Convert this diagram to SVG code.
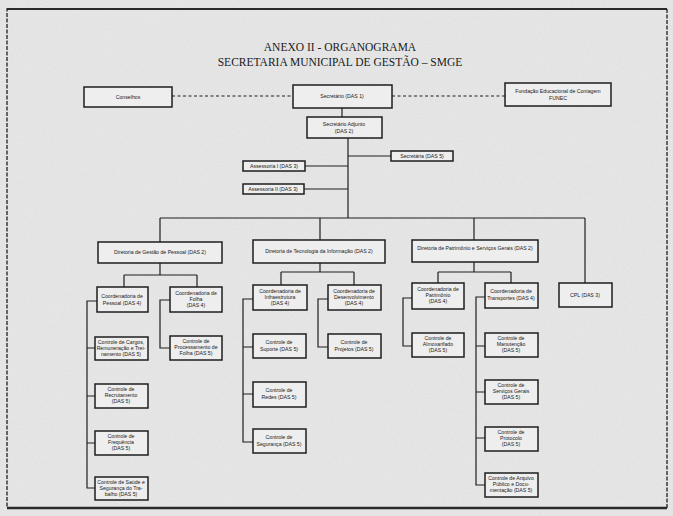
<svg xmlns="http://www.w3.org/2000/svg" width="673" height="516" viewBox="0 0 673 516">
<defs>
<filter id="paper" x="0" y="0" width="100%" height="100%">
<feTurbulence type="fractalNoise" baseFrequency="0.9" numOctaves="2" seed="3" result="n"/>
<feColorMatrix type="matrix" values="0 0 0 0 0.5  0 0 0 0 0.5  0 0 0 0 0.5  0 0 0 -0.9 0.55"/>
</filter>
</defs>
<style>
.bx{fill:#eeeeee;stroke:#1e1e1e;stroke-width:1.5}
.t{font-family:"Liberation Sans",Arial,sans-serif;font-size:5.2px;fill:#1a1a1a;text-anchor:middle}
.title{font-family:"Liberation Serif","Times New Roman",serif;font-size:11.5px;fill:#1a1a1a;text-anchor:middle}
.ln{stroke:#1e1e1e;stroke-width:1.2;fill:none}
.dash{stroke:#1e1e1e;stroke-width:1.2;fill:none;stroke-dasharray:3 2.5}
</style>
<rect x="0" y="0" width="673" height="516" fill="#e6e6e6"/>
<rect x="0" y="0" width="673" height="516" filter="url(#paper)" opacity="0.35"/>
<rect x="7" y="9" width="660" height="499" fill="none" stroke="#3a3a3a" stroke-width="1.5" stroke-dasharray="4 1.5"/>
<line x1="7" y1="9" x2="667" y2="9" stroke="#2a2a2a" stroke-width="2"/>
<line x1="7" y1="508" x2="667" y2="508" stroke="#2a2a2a" stroke-width="2.5"/>

<g id="title">
<text class="title" x="340" y="51">ANEXO II - ORGANOGRAMA</text>
<text class="title" x="340" y="66">SECRETARIA MUNICIPAL DE GESTÃO – SMGE</text>
</g>

<g id="connectors">
<path class="dash" d="M172 96H293M392 96H505"/>
<path class="ln" d="M342 108V117"/>
<path class="ln" d="M348 138V218M348 156H391M305 166H348M304 189H348"/>
<path class="ln" d="M160 218H585M160 218V242M320 218V240M474 218V240M585 218V283"/>
<path class="ln" d="M160 263V275M124 275H197M124 275V287M197 275V287"/>
<path class="ln" d="M97 301H87V488H95M87 348H95M87 396H95M87 443H95"/>
<path class="ln" d="M170 300H160V348H170"/>
<path class="ln" d="M320 263V272M281 272H354M281 272V285M354 272V285"/>
<path class="ln" d="M253 299H243V442H253M243 347H253M243 394H253"/>
<path class="ln" d="M328 299H318V347H328"/>
<path class="ln" d="M474 262V272M438 272H511M438 272V283M511 272V283"/>
<path class="ln" d="M412 298H403V346H412"/>
<path class="ln" d="M485 297H476V485H485M476 346H485M476 392H485M476 438H485"/>
</g>

<g id="n-conselhos"><rect class="bx" x="84" y="87" width="88" height="20"/><text class="t" x="128" y="99">Conselhos</text></g>
<g id="n-secretario"><rect class="bx" x="293" y="85" width="99" height="23"/><text class="t" x="342" y="98">Secretário (DAS 1)</text></g>
<g id="n-funec"><rect class="bx" x="505" y="83" width="106" height="23"/><text class="t" x="558" y="93">Fundação Educacional de Contagem</text><text class="t" x="558" y="100">FUNEC</text></g>
<g id="n-adjunto"><rect class="bx" x="307" y="117" width="75" height="21"/><text class="t" x="344" y="126">Secretário Adjunto</text><text class="t" x="344" y="133">(DAS 2)</text></g>
<g id="n-secretaria"><rect class="bx" x="391" y="151" width="62" height="10"/><text class="t" x="422" y="158">Secretária (DAS 5)</text></g>
<g id="n-assessoria1"><rect class="bx" x="243" y="161" width="62" height="10"/><text class="t" x="274" y="168">Assessoria I (DAS 3)</text></g>
<g id="n-assessoria2"><rect class="bx" x="243" y="184" width="61" height="10"/><text class="t" x="273" y="191">Assessoria II (DAS 3)</text></g>

<g id="n-dgp"><rect class="bx" x="98" y="242" width="124" height="21"/><text class="t" x="160" y="254">Diretoria de Gestão de Pessoal (DAS 2)</text></g>
<g id="n-dti"><rect class="bx" x="253" y="240" width="132" height="23"/><text class="t" x="319" y="253">Diretoria de Tecnologia da Informação (DAS 2)</text></g>
<g id="n-dps"><rect class="bx" x="412" y="240" width="126" height="22"/><text class="t" x="475" y="250">Diretoria de Patrimônio e Serviços Gerais (DAS 2)</text></g>
<g id="n-cpl"><rect class="bx" x="559" y="283" width="53" height="24"/><text class="t" x="585" y="297">CPL (DAS 3)</text></g>

<g id="n-cpes"><rect class="bx" x="97" y="287" width="51" height="25"/><text class="t" x="122" y="298">Coordenadoria de</text><text class="t" x="122" y="305">Pessoal (DAS 4)</text></g>
<g id="n-cfol"><rect class="bx" x="170" y="287" width="52" height="25"/><text class="t" x="196" y="295">Coordenadoria de</text><text class="t" x="196" y="301">Folha</text><text class="t" x="196" y="307">(DAS 4)</text></g>
<g id="n-c11"><rect class="bx" x="95" y="337" width="53" height="23"/><text class="t" x="121" y="344">Controle de Cargos,</text><text class="t" x="121" y="350">Remuneração e Trei-</text><text class="t" x="121" y="356">namento (DAS 5)</text></g>
<g id="n-c12"><rect class="bx" x="95" y="384" width="53" height="24"/><text class="t" x="121" y="391">Controle de</text><text class="t" x="121" y="397">Recrutamento</text><text class="t" x="121" y="403">(DAS 5)</text></g>
<g id="n-c13"><rect class="bx" x="95" y="431" width="53" height="24"/><text class="t" x="121" y="438">Controle de</text><text class="t" x="121" y="444">Frequência</text><text class="t" x="121" y="450">(DAS 5)</text></g>
<g id="n-c14"><rect class="bx" x="95" y="477" width="53" height="23"/><text class="t" x="121" y="484">Controle de Saúde e</text><text class="t" x="121" y="490">Segurança do Tra-</text><text class="t" x="121" y="496">balho (DAS 5)</text></g>
<g id="n-c15"><rect class="bx" x="170" y="336" width="52" height="24"/><text class="t" x="196" y="343">Controle de</text><text class="t" x="196" y="349">Processamento de</text><text class="t" x="196" y="355">Folha (DAS 5)</text></g>

<g id="n-cinf"><rect class="bx" x="253" y="285" width="54" height="25"/><text class="t" x="280" y="293">Coordenadoria de</text><text class="t" x="280" y="299">Infraestrutura</text><text class="t" x="280" y="305">(DAS 4)</text></g>
<g id="n-cdes"><rect class="bx" x="328" y="285" width="53" height="25"/><text class="t" x="354" y="293">Coordenadoria de</text><text class="t" x="354" y="299">Desenvolvimento</text><text class="t" x="354" y="305">(DAS 4)</text></g>
<g id="n-c21"><rect class="bx" x="253" y="334" width="53" height="24"/><text class="t" x="279" y="344">Controle de</text><text class="t" x="279" y="351">Suporte (DAS 5)</text></g>
<g id="n-c22"><rect class="bx" x="253" y="382" width="53" height="25"/><text class="t" x="279" y="392">Controle de</text><text class="t" x="279" y="399">Redes (DAS 5)</text></g>
<g id="n-c23"><rect class="bx" x="253" y="429" width="53" height="24"/><text class="t" x="279" y="439">Controle de</text><text class="t" x="279" y="446">Segurança (DAS 5)</text></g>
<g id="n-c24"><rect class="bx" x="328" y="334" width="53" height="24"/><text class="t" x="354" y="344">Controle de</text><text class="t" x="354" y="351">Projetos (DAS 5)</text></g>

<g id="n-cpat"><rect class="bx" x="412" y="283" width="52" height="26"/><text class="t" x="438" y="291">Coordenadoria de</text><text class="t" x="438" y="297">Patrimônio</text><text class="t" x="438" y="303">(DAS 4)</text></g>
<g id="n-ctra"><rect class="bx" x="485" y="283" width="53" height="25"/><text class="t" x="511" y="293">Coordenadoria de</text><text class="t" x="511" y="300">Transportes (DAS 4)</text></g>
<g id="n-c31"><rect class="bx" x="412" y="333" width="52" height="24"/><text class="t" x="438" y="340">Controle de</text><text class="t" x="438" y="346">Almoxarifado</text><text class="t" x="438" y="352">(DAS 5)</text></g>
<g id="n-c32"><rect class="bx" x="485" y="333" width="53" height="24"/><text class="t" x="511" y="340">Controle de</text><text class="t" x="511" y="346">Manutenção</text><text class="t" x="511" y="352">(DAS 5)</text></g>
<g id="n-c33"><rect class="bx" x="485" y="380" width="53" height="24"/><text class="t" x="511" y="387">Controle de</text><text class="t" x="511" y="393">Serviços Gerais</text><text class="t" x="511" y="399">(DAS 5)</text></g>
<g id="n-c34"><rect class="bx" x="485" y="427" width="53" height="24"/><text class="t" x="511" y="434">Controle de</text><text class="t" x="511" y="440">Protocolo</text><text class="t" x="511" y="446">(DAS 5)</text></g>
<g id="n-c35"><rect class="bx" x="485" y="473" width="53" height="24"/><text class="t" x="511" y="480">Controle de Arquivo</text><text class="t" x="511" y="486">Público e Docu-</text><text class="t" x="511" y="492">mentação (DAS 5)</text></g>
</svg>
